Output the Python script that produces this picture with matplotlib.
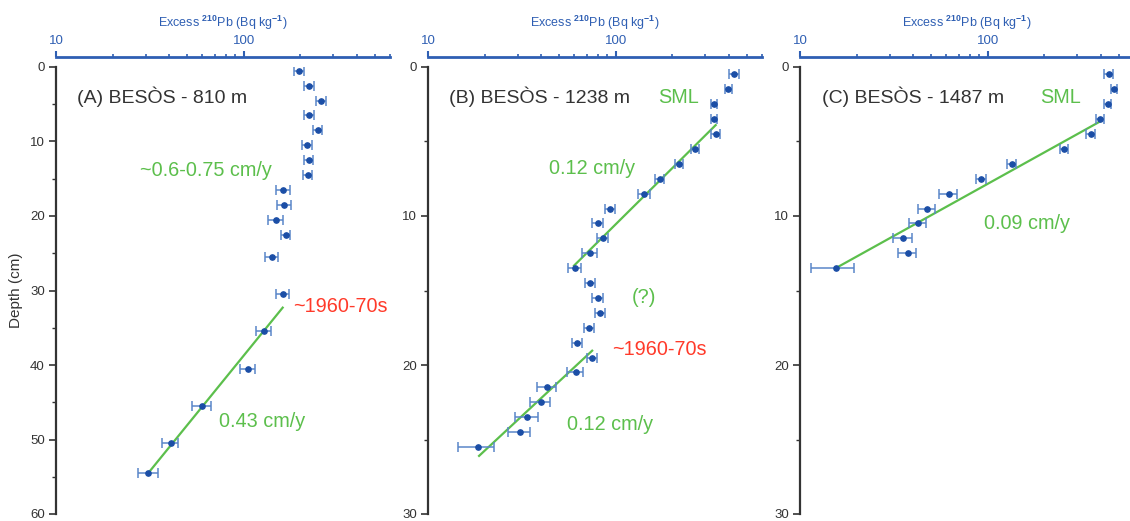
import numpy as np
import matplotlib
matplotlib.use('Agg')
import matplotlib.pyplot as plt
from matplotlib import ticker

plt.rcParams['font.family'] = ['Liberation Sans', 'DejaVu Sans']
plt.rcParams['mathtext.fontset'] = 'custom'
plt.rcParams['mathtext.rm'] = 'Liberation Sans'
plt.rcParams['mathtext.it'] = 'Liberation Sans:italic'
plt.rcParams['mathtext.bf'] = 'Liberation Sans:bold'

'''---------------------- Data (read from the profiles) ----------------------'''
# (A) BESOS - 810 m
depthA = [0.5, 2.5, 4.5, 6.5, 8.5, 10.5, 12.5, 14.5, 16.5, 18.5, 20.5, 22.5, 25.5, 30.5,
          35.5, 40.5, 45.5, 50.5, 54.5]
pbA = [197, 222, 258, 222, 248, 218, 221, 219, 162, 164, 148, 167, 141, 161,
       128, 105, 60, 40.7, 31]
errA = [12, 13, 15, 13, 14, 13, 13, 13, 14, 14, 13, 10, 11, 13,
        12, 10, 7, 4, 3.8]
fitA_pb = [161, 31]
fitA_depth = [32.3, 54.5]

# (B) BESOS - 1238 m
depthB = [0.5, 1.5, 2.5, 3.5, 4.5, 5.5, 6.5, 7.5, 8.5, 9.5, 10.5, 11.5, 12.5, 13.5,
          14.5, 15.5, 16.5, 17.5, 18.5, 19.5, 20.5, 21.5, 22.5, 23.5, 24.5, 25.5]
pbB = [428, 397, 335, 333, 340, 263, 217, 171, 141.5, 93, 80, 85, 72.8, 60.5,
       72.8, 80, 82.4, 71.8, 62.3, 74.8, 61, 43.2, 39.9, 33.7, 30.8, 18.5]
errB = [26, 16, 12, 12, 17, 13, 11, 9, 11, 5.5, 5, 5.5, 7, 5,
        4.5, 5, 5, 4.5, 4, 5, 6, 5, 4.8, 4.6, 4.2, 4]
fitB1_pb = [340, 59.9]
fitB1_depth = [3.9, 13.33]
fitB2_pb = [74.8, 18.7]
fitB2_depth = [19.04, 26.1]

# (C) BESOS - 1487 m
depthC = [0.5, 1.5, 2.5, 3.5, 4.5, 5.5, 6.5, 7.5, 8.5, 9.5, 10.5, 11.5, 12.5, 13.5]
pbC = [439, 470, 435, 394, 353, 255, 134, 92, 61.8, 47.4, 42.5, 35.4, 37.4, 15.5]
errC = [26, 20, 19, 19, 21, 12, 7.5, 6, 7, 4.8, 4.6, 4.3, 4.2, 4]
fitC_pb = [394, 15.5]
fitC_depth = [3.67, 13.5]

# colours
blue_axis = '#2f5fb3'
blue_pt = '#1b4ea6'
blue_err = '#5a86c9'
green = '#5cbf4c'
red = '#ff3a2a'
dark = '#333333'

TITLE_FS = 14
NOTE_FS = 14.3

'''---------------------- Figure space ----------------------'''
fig = plt.figure(figsize=(11.3, 5.21), dpi=100)

W, H = 1130., 521.
def axes_at(left_px):
    return fig.add_axes([left_px / W, (H - 514) / H, 334 / W, 447 / H])

def style_axis(ax, ymax):
    ax.set_xscale('log')
    ax.set_xlim(10, 600)
    ax.set_ylim(ymax, 0)
    # top blue log axis
    ax.xaxis.set_ticks_position('top')
    ax.xaxis.set_label_position('top')
    ax.set_xticks([10, 100])
    ax.set_xticklabels(['10', '100'])
    ax.xaxis.set_minor_locator(ticker.FixedLocator([20, 30, 40, 50, 60, 70, 80, 90,
                                                    200, 300, 400, 500, 600]))
    ax.xaxis.set_minor_formatter(ticker.NullFormatter())
    ax.tick_params(axis='x', which='major', colors=blue_axis, labelsize=9.5,
                   length=4.5, width=1.5, direction='out', pad=2.5)
    ax.tick_params(axis='x', which='minor', colors=blue_axis, length=2.5, width=1.2,
                   direction='out')
    ax.set_xlabel('Excess $^{\\mathbf{210}}$Pb (Bq kg$^{\\mathbf{-1}}$)',
                  color=blue_axis, fontsize=9, labelpad=6)
    ax.spines['top'].set_position(('outward', 7.2))
    ax.spines['top'].set_color(blue_axis)
    ax.spines['top'].set_linewidth(2)
    # left depth axis
    ax.set_yticks(np.arange(0, ymax + 1, 10))
    ax.yaxis.set_minor_locator(ticker.MultipleLocator(5))
    ax.tick_params(axis='y', which='major', colors=dark, labelsize=9.5,
                   length=5, width=1.2, pad=3)
    ax.tick_params(axis='y', which='minor', colors=dark, length=3, width=1.0)
    ax.spines['left'].set_color(dark)
    ax.spines['left'].set_linewidth(1.6)
    ax.spines['bottom'].set_visible(False)
    ax.spines['right'].set_visible(False)
    ax.patch.set_alpha(0)

def draw_profile(ax, pb, depth, err):
    ax.errorbar(pb, depth, xerr=err, fmt='o', ms=3.8, color=blue_pt, mec=blue_pt,
                ecolor=blue_err, elinewidth=1.1, capsize=3.5, capthick=1.1, zorder=3)

def note(ax, x, y, s, color, fs=NOTE_FS):
    ax.text(x, y, s, transform=ax.transAxes, fontsize=fs, color=color, va='center')

'''---------------------- Panel A ----------------------'''
axA = axes_at(56)
style_axis(axA, 60)
draw_profile(axA, pbA, depthA, errA)
axA.plot(fitA_pb, fitA_depth, color=green, lw=1.6, zorder=2)
axA.set_ylabel('Depth (cm)', fontsize=11, color=dark, labelpad=5)
note(axA, 0.063, 0.933, '(A) BESÒS - 810 m', dark, TITLE_FS)
note(axA, 0.251, 0.769, '~0.6-0.75 cm/y', green)
note(axA, 0.71, 0.465, '~1960-70s', red)
note(axA, 0.488, 0.206, '0.43 cm/y', green)

'''---------------------- Panel B ----------------------'''
axB = axes_at(428)
style_axis(axB, 30)
draw_profile(axB, pbB, depthB, errB)
axB.plot(fitB1_pb, fitB1_depth, color=green, lw=1.6, zorder=2)
axB.plot(fitB2_pb, fitB2_depth, color=green, lw=1.6, zorder=2)
note(axB, 0.063, 0.933, '(B) BESÒS - 1238 m', dark, TITLE_FS)
note(axB, 0.689, 0.931, 'SML', green)
note(axB, 0.362, 0.774, '0.12 cm/y', green)
note(axB, 0.611, 0.485, '(?)', green)
note(axB, 0.551, 0.367, '~1960-70s', red)
note(axB, 0.416, 0.201, '0.12 cm/y', green)

'''---------------------- Panel C ----------------------'''
axC = axes_at(800)
style_axis(axC, 30)
draw_profile(axC, pbC, depthC, errC)
axC.plot(fitC_pb, fitC_depth, color=green, lw=1.6, zorder=2)
note(axC, 0.067, 0.933, '(C) BESÒS - 1487 m', dark, TITLE_FS)
note(axC, 0.72, 0.931, 'SML', green)
note(axC, 0.552, 0.650, '0.09 cm/y', green)

fig.savefig('out.png', dpi=100)
